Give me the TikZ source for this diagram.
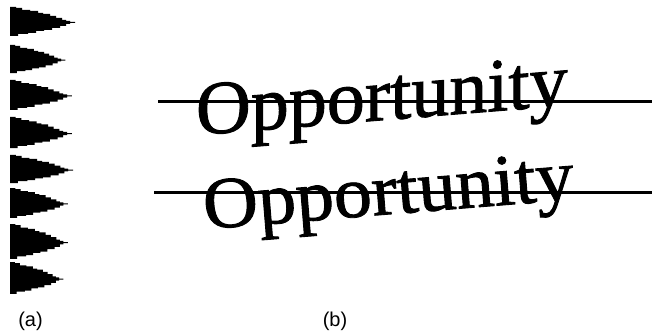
\documentclass[tikz,border=0pt]{standalone}
\usepackage{fontspec}
\setmainfont{Liberation Serif}
\newfontfamily\wordfont{Liberation Serif}[FakeBold=1.2]
\newfontfamily\labelfont{Liberation Sans}
\begin{document}
\begin{tikzpicture}[x=1pt,y=-1pt,
  word/.style={inner sep=0pt, outer sep=0pt, font=\wordfont\fontsize{76}{76}\selectfont, anchor=base west},
  rule/.style={line width=3pt},
  sublabel/.style={font=\labelfont\fontsize{20}{20}\selectfont, inner sep=0pt, anchor=base},
  spike/.pic={\fill[black] (0,0) -- (6,0) -- (6,1) -- (12,1) -- (12,3) -- (20,3) -- (20,4) -- (28,4) -- (28,6) -- (33,6) -- (33,7) -- (40,7) -- (40,9) -- (46,9) -- (46,11) -- (52,11) -- (52,13) -- (56,13) -- (56,14) -- (60,14) -- (60,15) -- (65,15) -- (65,16) -- (60,16) -- (60,17) -- (56,17) -- (56,19) -- (50,19) -- (50,21) -- (42,21) -- (42,23) -- (34,23) -- (34,24) -- (26,24) -- (26,26) -- (18,26) -- (18,27) -- (8,27) -- (8,29) -- (0,29) -- cycle;}]
\useasboundingbox (0,0) rectangle (652,331);
% (a) column of spikes
\pic[xscale=1.00, yscale=1.00] (s1) at (10,7) {spike};
\pic[xscale=0.85, yscale=0.97] (s2) at (10,45) {spike};
\pic[xscale=0.95, yscale=1.03] (s3) at (10,80) {spike};
\pic[xscale=0.95, yscale=1.07] (s4) at (10,117) {spike};
\pic[xscale=0.97, yscale=0.97] (s5) at (10,155) {spike};
\pic[xscale=0.89, yscale=1.03] (s6) at (10,188) {spike};
\pic[xscale=0.89, yscale=1.20] (s7) at (10,224) {spike};
\pic[xscale=0.82, yscale=1.10] (s8) at (10,262) {spike};
% (b) words and lines
\coordinate (l1s) at (158,102); \coordinate (l1e) at (652,102);
\coordinate (l2s) at (154,192); \coordinate (l2e) at (652,192);
\node[word, yslant=0.08] (w1) at (196,135) {Opportunity};
\node[word, rotate=4.6, yscale=0.96] (w2) at (205,229) {Opportunity};
\draw[rule] (l1s) -- (l1e);
\draw[rule] (l2s) -- (l2e);
% labels
\node[sublabel] (la) at (30.5,326) {(a)};
\node[sublabel] (lb) at (335,326) {(b)};
\end{tikzpicture}
\end{document}
